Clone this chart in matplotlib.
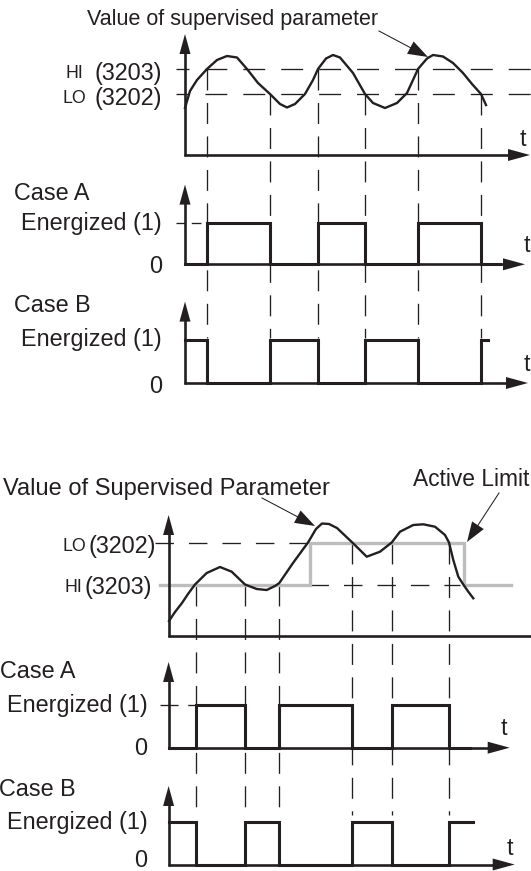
import numpy as np
import matplotlib
matplotlib.use("Agg")
import matplotlib.pyplot as plt

plt.rcParams["font.family"] = ["Liberation Sans", "DejaVu Sans"]
plt.rcParams["lines.scale_dashes"] = False

INK = "#231f20"
GREY = "#bdbdbd"

# upper diagram: HI limit above LO limit
top_hi, top_lo = 69, 94
top_switch = [207, 270, 318, 365, 418, 481]
top_switch_level = ["hi", "lo", "hi", "lo", "hi", "lo"]
top_curve_t = [185, 190, 197, 207, 217, 227, 237, 247, 258, 270, 280, 287, 295,
               305, 313, 318, 326, 333, 340, 353, 365, 373, 385, 397, 407, 413,
               418, 427, 433, 443, 453, 463, 472, 481, 486]
top_curve_v = [108, 91, 80, 69, 60, 56, 57.5, 69, 83, 94, 104, 107.5, 104,
               94, 80, 69, 58.5, 55, 57.5, 73, 94, 103, 108, 103, 93, 80,
               69, 58.5, 55, 56.5, 63, 73, 84, 94, 105]

# lower diagram: LO limit above HI limit, active limit switches
bot_lo, bot_hi = 542.5, 584.5
bot_switch = [195.7, 244.5, 279.4, 352.2, 392.1, 448.7]
bot_switch_level = ["hi", "hi", "hi", "lo", "lo", "lo"]
bot_curve_t = [169, 175, 182, 188, 195, 206.7, 220, 231.7, 245, 256.7, 266.7,
               275, 279.3, 293, 308, 316, 322, 329, 337, 352.3, 366.7, 380,
               391.7, 400, 413.3, 423.3, 435, 445, 449, 453.3, 458.3, 463.3,
               468.3, 473.3]
bot_curve_v = [621, 612, 603, 594, 584.5, 573, 567, 571.7, 584.5, 589, 590,
               586, 583, 563, 542.5, 529, 523.5, 524, 528, 542.5, 556.7, 551.7,
               542.5, 531.7, 525, 524.3, 526.7, 535, 542.5, 560, 576.7, 584.5,
               591.7, 598.3]
bot_limit_t = [160, 310, 310, 464, 464, 511]
bot_limit_v = [bot_hi, bot_hi, bot_lo, bot_lo, bot_hi, bot_hi]

fig = plt.figure(figsize=(5.31, 8.71), dpi=100)
ax = fig.add_axes([0, 0, 1, 1])
ax.set_xlim(0, 531)
ax.set_ylim(871, 0)
ax.axis("off")

FS = 16.8
SC = 12.8


def head(tip, frm, length, half, color=INK):
    tip = np.array(tip, float)
    d = tip - np.array(frm, float)
    d /= np.hypot(*d)
    n = np.array([-d[1], d[0]])
    base = tip - d * length
    pts = np.array([tip, base + n * half, base - n * half])
    ax.fill(pts[:, 0], pts[:, 1], color=color, lw=0, zorder=6)


def axes_pair(x0, ytip, ybase, xtip, xhead=True):
    ax.plot([x0, x0], [ybase + 1, ytip + 10], color=INK, lw=1.9, zorder=5,
            solid_capstyle="butt")
    head((x0, ytip), (x0, ybase), 20, 5.5)
    end = xtip - 11 if xhead else xtip
    ax.plot([x0 - 1, end], [ybase, ybase], color=INK, lw=1.9, zorder=5,
            solid_capstyle="butt")
    if xhead:
        head((xtip, ybase), (x0, ybase), 22, 6)


def square(x0, x1, switches, state, y_on, y_off):
    xs, ys = [x0], [y_on if state else y_off]
    for s in switches:
        xs += [s, s]
        ys += [y_on if state else y_off]
        state = not state
        ys += [y_on if state else y_off]
    xs.append(x1)
    ys.append(y_on if state else y_off)
    ax.plot(xs, ys, color=INK, lw=2.2, zorder=7, solid_joinstyle="miter")


def arrow(frm, tip):
    d = np.array(tip, float) - np.array(frm, float)
    stop = np.array(tip, float) - d / np.hypot(*d) * 12
    ax.plot([frm[0], stop[0]], [frm[1], stop[1]], color=INK, lw=0.75, zorder=6)
    head(tip, frm, 20, 7)


vdash = (0, (15.1, 9.0))

# ---------------- upper diagram ----------------
ax.text(87, 19, "Value of supervised parameter", fontsize=15.5, color=INK,
        ha="left", va="center")
arrow((379, 31), (428, 57))

for lvl, num, sc in [(top_hi, "(3203)", "HI"), (top_lo, "(3202)", "LO")]:
    ax.plot([176, 531], [lvl, lvl], color=INK, lw=0.95,
            linestyle=(6.5, (15.8, 11.5)), zorder=3)
    ax.text(162, lvl + 4.5, num, fontsize=FS, color=INK, ha="right", va="center")
    ax.text(86 if sc == "LO" else 83, lvl + 4.5, sc, fontsize=SC, color=INK,
            ha="right", va="center")

for s, lv in zip(top_switch, top_switch_level):
    y0 = top_hi if lv == "hi" else top_lo
    ax.plot([s, s], [y0, 338], color=INK, lw=0.95, linestyle=vdash, zorder=2)

ax.plot(top_curve_t, top_curve_v, color=INK, lw=1.7, zorder=7,
        solid_joinstyle="round")
axes_pair(185, 34, 155, 530)
ax.text(523, 140, "t", fontsize=FS, color=INK, ha="center", va="center")

# case A / case B, upper
ax.text(14, 193, "Case A", fontsize=FS, color=INK, ha="left", va="center")
ax.text(162, 223, "Energized (1)", fontsize=FS, color=INK, ha="right", va="center")
ax.text(156, 266, "0", fontsize=FS, color=INK, ha="center", va="center")
ax.text(526.6, 245.7, "t", fontsize=FS, color=INK, ha="center", va="center")
ax.plot([176, 207], [222.7, 222.7], color=INK, lw=0.95,
        linestyle=(0, (7, 4)), zorder=3)
axes_pair(185, 184.6, 264.3, 525)
square(185, 500, top_switch, False, 222.7, 264.3)

ax.text(14, 305, "Case B", fontsize=FS, color=INK, ha="left", va="center")
ax.text(162, 339, "Energized (1)", fontsize=FS, color=INK, ha="right", va="center")
ax.text(156, 386, "0", fontsize=FS, color=INK, ha="center", va="center")
ax.text(526.6, 364, "t", fontsize=FS, color=INK, ha="center", va="center")
axes_pair(185, 301.6, 383, 528)
square(185, 488, top_switch, True, 340, 383)

# ---------------- lower diagram ----------------
ax.text(3, 489, "Value of Supervised Parameter", fontsize=17, color=INK,
        ha="left", va="center")
ax.text(529, 479, "Active Limit", fontsize=16.4, color=INK, ha="right",
        va="center")
arrow((262, 498), (315, 526))
arrow((499, 493), (467, 542))

ax.plot([155, 310], [bot_lo, bot_lo], color=INK, lw=0.95,
        linestyle=(0, (13.3, 10.8)), zorder=3)
ax.plot([310, 460], [bot_hi, bot_hi], color=INK, lw=0.95,
        linestyle=(0, (13.3, 10.8)), zorder=3)
ax.text(156, bot_lo + 3.5, "(3202)", fontsize=FS, color=INK, ha="right", va="center")
ax.text(86, bot_lo + 3.5, "LO", fontsize=SC, color=INK, ha="right", va="center")
ax.text(152, bot_hi + 3, "(3203)", fontsize=FS, color=INK, ha="right", va="center")
ax.text(82, bot_hi + 3, "HI", fontsize=SC, color=INK, ha="right", va="center")

for s, lv in zip(bot_switch, bot_switch_level):
    y0 = bot_hi if lv == "hi" else bot_lo
    ax.plot([s, s], [y0, 815], color=INK, lw=0.95, linestyle=vdash, zorder=2)

ax.plot(bot_limit_t, bot_limit_v, color=GREY, lw=2.4, zorder=4,
        solid_joinstyle="miter")
ax.plot(bot_curve_t, bot_curve_v, color=INK, lw=1.7, zorder=7,
        solid_joinstyle="round")
axes_pair(168.6, 515, 635.5, 531, xhead=False)

ax.text(76, 671, "Case A", fontsize=FS, color=INK, ha="right", va="center")
ax.text(147.3, 705, "Energized (1)", fontsize=FS, color=INK, ha="right", va="center")
ax.text(140.5, 748, "0", fontsize=FS, color=INK, ha="center", va="center")
ax.text(504, 728, "t", fontsize=FS, color=INK, ha="center", va="center")
ax.plot([160, 196], [704.7, 704.7], color=INK, lw=0.95,
        linestyle=(0, (13, 7)), zorder=3)
axes_pair(168.6, 662, 747.7, 509.7)
square(168.6, 470, bot_switch, False, 704.7, 747.7)

ax.text(76, 789, "Case B", fontsize=FS, color=INK, ha="right", va="center")
ax.text(147.3, 822, "Energized (1)", fontsize=FS, color=INK, ha="right", va="center")
ax.text(140.5, 860, "0", fontsize=FS, color=INK, ha="center", va="center")
ax.text(509.6, 848.6, "t", fontsize=FS, color=INK, ha="center", va="center")
axes_pair(168.6, 786, 864.5, 514.7)
square(168.6, 473.4, bot_switch, True, 822, 864.5)

fig.savefig("out.png", dpi=100)
